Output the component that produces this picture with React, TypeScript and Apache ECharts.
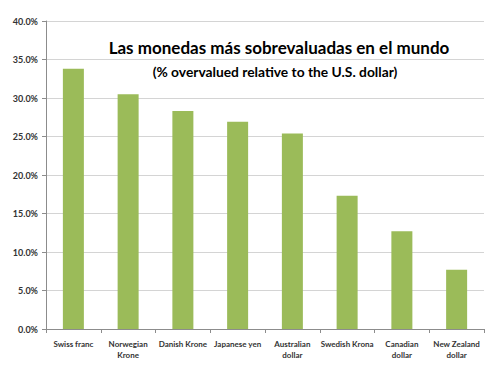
import React, { useEffect, useRef } from "react";
import * as echarts from "echarts";

const categories = [
  "Swiss franc",
  "Norwegian\nKrone",
  "Danish Krone",
  "Japanese yen",
  "Australian\ndollar",
  "Swedish Krona",
  "Canadian\ndollar",
  "New Zealand\ndollar",
];
const values = [33.8, 30.5, 28.3, 26.9, 25.4, 17.3, 12.7, 7.7];
const titleText = "Las monedas más sobrevaluadas en el mundo";
const subtitleText = "(% overvalued relative to the U.S. dollar)";

export default function App() {
  const ref = useRef<HTMLDivElement>(null);
  useEffect(() => {
    const chart = echarts.init(ref.current!, null, { renderer: "svg" });
    chart.setOption({
      animation: false,
      backgroundColor: "#ffffff",
      title: [
        {
          text: titleText,
          left: 274,
          top: 34,
          textAlign: "center",
          textStyle: { fontFamily: "Lato", fontSize: 17, fontWeight: "bold", color: "#000" },
        },
        {
          text: subtitleText,
          left: 270,
          top: 59,
          textAlign: "center",
          textStyle: { fontFamily: "Lato", fontSize: 13.8, fontWeight: "bold", color: "#000" },
        },
      ],
      grid: { left: 46, right: 18, top: 21, bottom: 38, containLabel: false },
      xAxis: {
        type: "category",
        data: categories,
        axisLine: { lineStyle: { color: "#8c8c8c" } },
        axisTick: { show: true, alignWithLabel: false, length: 4, lineStyle: { color: "#8c8c8c" } },
        axisLabel: {
          interval: 0,
          fontFamily: "Lato",
          fontSize: 8,
          fontWeight: "bold",
          color: "#333",
          lineHeight: 11,
          margin: 9,
        },
      },
      yAxis: {
        type: "value",
        min: 0,
        max: 40,
        interval: 5,
        axisLine: { show: true, lineStyle: { color: "#8c8c8c" } },
        axisTick: { show: true, length: 4, lineStyle: { color: "#8c8c8c" } },
        splitLine: { lineStyle: { color: "#d4d4d4" } },
        axisLabel: {
          formatter: (v: number) => v.toFixed(1) + "%",
          fontFamily: "Lato",
          fontSize: 9,
          fontWeight: "bold",
          color: "#333",
          margin: 8,
        },
      },
      series: [
        {
          type: "bar",
          data: values,
          barWidth: 21,
          itemStyle: { color: "#9bbb59" },
        },
      ],
    });
    return () => chart.dispose();
  }, []);
  return <div ref={ref} style={{ width: 502, height: 367, position: "absolute", left: 0, top: 0 }} />;
}
